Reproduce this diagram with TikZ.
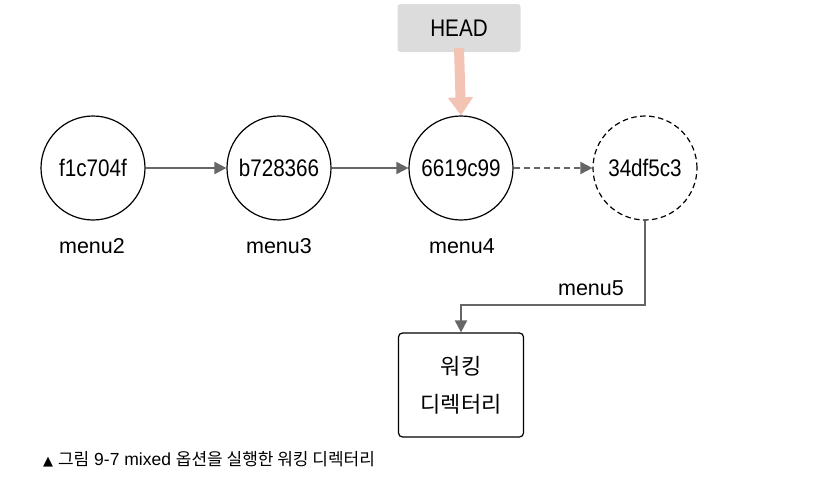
\documentclass[tikz,border=0pt]{standalone}
\usepackage{fontspec}
\setmainfont{Liberation Sans}
\newfontfamily\condfont[FakeStretch=0.86]{Liberation Sans}
\newfontfamily\kfont{Noto Sans CJK KR}
\newfontfamily\symfont{DejaVu Sans}
\usetikzlibrary{arrows.meta}
\definecolor{linegray}{HTML}{666666}
\definecolor{headgray}{HTML}{DCDCDC}
\definecolor{headpink}{HTML}{F3C3B3}
\tikzset{
  commit/.style={circle, draw=black, line width=1.2pt, minimum size=104pt, inner sep=0pt, font=\condfont\fontsize{24}{26}\selectfont},
  commitghost/.style={commit, dashed, dash pattern=on 5.5pt off 3.5pt},
  lbl/.style={font=\fontsize{21.5}{24}\selectfont, inner sep=0pt},
  conn/.style={draw=linegray, line width=1.9pt, -{Triangle[length=12pt,width=12pt]}},
  wd/.style={draw=black, line width=1.2pt, rounded corners=4pt, minimum width=125pt, minimum height=104pt, align=center, font=\kfont\fontsize{22}{38}\selectfont},
  headbox/.style={fill=headgray, rounded corners=3pt, minimum width=123pt, minimum height=48pt, font=\condfont\fontsize{24}{26}\selectfont},
}
\begin{document}
\begin{tikzpicture}[x=1pt,y=-1pt]
\useasboundingbox (0,0) rectangle (828,479);
\node[commit] (c1) at (93,168) {f1c704f};
\node[commit] (c2) at (279,168) {b728366};
\node[commit] (c3) at (461,168) {6619c99};
\node[commitghost] (c4) at (645,168) {34df5c3};
\node[lbl] (l1) at (92,246) {menu2};
\node[lbl] (l2) at (279,246) {menu3};
\node[lbl] (l3) at (462,246) {menu4};
\node[lbl] (l4) at (591,288) {menu5};
\node[headbox] (head) at (459,28) {HEAD};
\node[wd] (wd) at (461,385) {워킹\\디렉터리};
\draw[conn] (c1) -- (c2);
\draw[conn] (c2) -- (c3);
\draw[conn, dashed, dash pattern=on 6pt off 4pt] (c3) -- (c4);
\draw[conn] (c4.south) |- (461,305) -- (wd.north);
\draw[headpink, line width=10pt, -{Triangle[length=18pt,width=24pt]}] ([yshift=4pt]head.south) -- (c3.north);
\node[anchor=west, inner sep=0pt, font=\fontsize{17.5}{19}\selectfont] (cap) at (43,459) {{\symfont\fontsize{13}{15}\selectfont ▲} {\kfont\fontsize{17}{19}\selectfont 그림} 9-7 mixed {\kfont\fontsize{17}{19}\selectfont 옵션을 실행한 워킹 디렉터리}};
\end{tikzpicture}
\end{document}
